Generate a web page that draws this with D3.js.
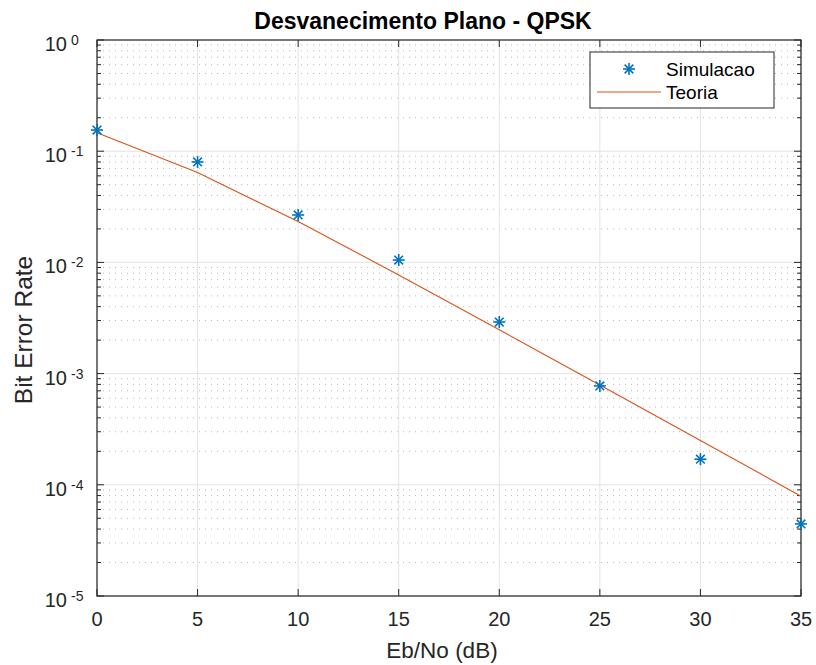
<!DOCTYPE html>
<html><head><meta charset="utf-8">
<script src="https://cdn.jsdelivr.net/npm/d3@7/dist/d3.min.js"></script>
<style>body{margin:0;background:#fff}svg{font-family:"Liberation Sans",Arial,Helvetica,sans-serif}</style>
</head><body>
<svg id="chart" width="816" height="665"></svg>
<script>
// Eb/No points (dB)
const ebno = [0, 5, 10, 15, 20, 25, 30, 35];
// Simulated BER
const berSim = [0.155, 0.080, 0.0267, 0.0105, 0.00291, 0.000775, 0.000170, 0.0000445];
// Theoretical BER, QPSK over flat Rayleigh fading
const berTheory = [0.1464, 0.0642, 0.02327, 0.00772, 0.002481, 0.000788, 0.0002498, 0.0000790];
const xTicks = [0, 5, 10, 15, 20, 25, 30, 35];
const yExps = [0, -1, -2, -3, -4, -5];

const svg = d3.select("#chart");
const L = 97, R = 801, T = 40, B = 596;
const x = d3.scaleLinear().domain([0, 35]).range([L, R]);
const y = d3.scaleLog().domain([1e-5, 1]).range([B, T]);
const axisColor = "#262626";

// grid: minor dotted then major solid
const minors = [];
for (let e = -5; e < 0; e++) for (let m = 2; m <= 9; m++) minors.push(m * Math.pow(10, e));
const g = svg.append("g");
g.selectAll(".ymin").data(minors).enter().append("line")
  .attr("x1", L).attr("x2", R).attr("y1", d => y(d)).attr("y2", d => y(d))
  .attr("stroke", "#b8b8b8").attr("stroke-width", 1).attr("stroke-dasharray", "1,5");
g.selectAll(".ymaj").data(yExps).enter().append("line")
  .attr("x1", L).attr("x2", R).attr("y1", d => y(Math.pow(10, d))).attr("y2", d => y(Math.pow(10, d)))
  .attr("stroke", "#e3e3e3").attr("stroke-width", 1);
g.selectAll(".xmaj").data(xTicks).enter().append("line")
  .attr("y1", T).attr("y2", B).attr("x1", d => x(d)).attr("x2", d => x(d))
  .attr("stroke", "#e3e3e3").attr("stroke-width", 1);

// axes with inward ticks
const ax = svg.append("g").attr("stroke", axisColor).attr("stroke-width", 1);
xTicks.forEach(v => {
  ax.append("line").attr("x1", x(v)).attr("x2", x(v)).attr("y1", B).attr("y2", B - 7);
  ax.append("line").attr("x1", x(v)).attr("x2", x(v)).attr("y1", T).attr("y2", T + 7);
});
yExps.forEach(e => {
  const yy = y(Math.pow(10, e));
  ax.append("line").attr("x1", L).attr("x2", L + 7).attr("y1", yy).attr("y2", yy);
  ax.append("line").attr("x1", R).attr("x2", R - 7).attr("y1", yy).attr("y2", yy);
});
minors.forEach(d => {
  ax.append("line").attr("x1", L).attr("x2", L + 4).attr("y1", y(d)).attr("y2", y(d));
  ax.append("line").attr("x1", R).attr("x2", R - 4).attr("y1", y(d)).attr("y2", y(d));
});
svg.append("rect").attr("x", L).attr("y", T).attr("width", R - L).attr("height", B - T)
  .attr("fill", "none").attr("stroke", axisColor).attr("stroke-width", 1.2);

// tick labels
svg.selectAll(".xl").data(xTicks).enter().append("text")
  .attr("x", d => x(d)).attr("y", B + 30).attr("text-anchor", "middle")
  .attr("font-size", 20).attr("fill", axisColor).text(d => d);
yExps.forEach(e => {
  const t = svg.append("text").attr("x", 67).attr("y", y(Math.pow(10, e)) + 11)
    .attr("fill", axisColor);
  t.append("tspan").attr("font-size", 20).attr("text-anchor", "end").text("10");
  t.append("tspan").attr("x", 71).attr("dy", -6).attr("font-size", 14).text(e);
});

// axis labels and title
svg.append("text").attr("x", 442).attr("y", 658).attr("text-anchor", "middle")
  .attr("font-size", 22.5).attr("fill", axisColor).text("Eb/No (dB)");
svg.append("text").attr("transform", "translate(32,330) rotate(-90)")
  .attr("text-anchor", "middle").attr("font-size", 24.5).attr("fill", axisColor).text("Bit Error Rate");
svg.append("text").attr("x", 423).attr("y", 29).attr("text-anchor", "middle")
  .attr("font-size", 23).attr("font-weight", "bold").attr("fill", "#000").text("Desvanecimento Plano - QPSK");

// theory line
const line = d3.line().x((d, i) => x(ebno[i])).y(d => y(d));
svg.append("path").datum(berTheory).attr("d", line)
  .attr("fill", "none").attr("stroke", "#D95319").attr("stroke-width", 1.1);

// asterisk marker
function star(sel, cx, cy, r) {
  const gg = sel.append("g").attr("stroke", "#0072BD").attr("stroke-width", 1.6);
  gg.append("line").attr("x1", cx - r).attr("x2", cx + r).attr("y1", cy).attr("y2", cy);
  gg.append("line").attr("x1", cx).attr("x2", cx).attr("y1", cy - r).attr("y2", cy + r);
  const k = r * 0.72;
  gg.append("line").attr("x1", cx - k).attr("x2", cx + k).attr("y1", cy - k).attr("y2", cy + k);
  gg.append("line").attr("x1", cx - k).attr("x2", cx + k).attr("y1", cy + k).attr("y2", cy - k);
}
berSim.forEach((v, i) => star(svg, x(ebno[i]), y(v), 6));

// legend
const lg = svg.append("g");
lg.append("rect").attr("x", 590).attr("y", 52).attr("width", 184).attr("height", 56)
  .attr("fill", "#fff").attr("stroke", axisColor).attr("stroke-width", 1);
star(lg, 629, 69, 6);
lg.append("text").attr("x", 666).attr("y", 76).attr("font-size", 19).attr("fill", "#000").text("Simulacao");
lg.append("line").attr("x1", 597).attr("x2", 661).attr("y1", 92).attr("y2", 92)
  .attr("stroke", "#D95319").attr("stroke-width", 1.1);
lg.append("text").attr("x", 666).attr("y", 99).attr("font-size", 19).attr("fill", "#000").text("Teoria");
</script>
</body></html>
